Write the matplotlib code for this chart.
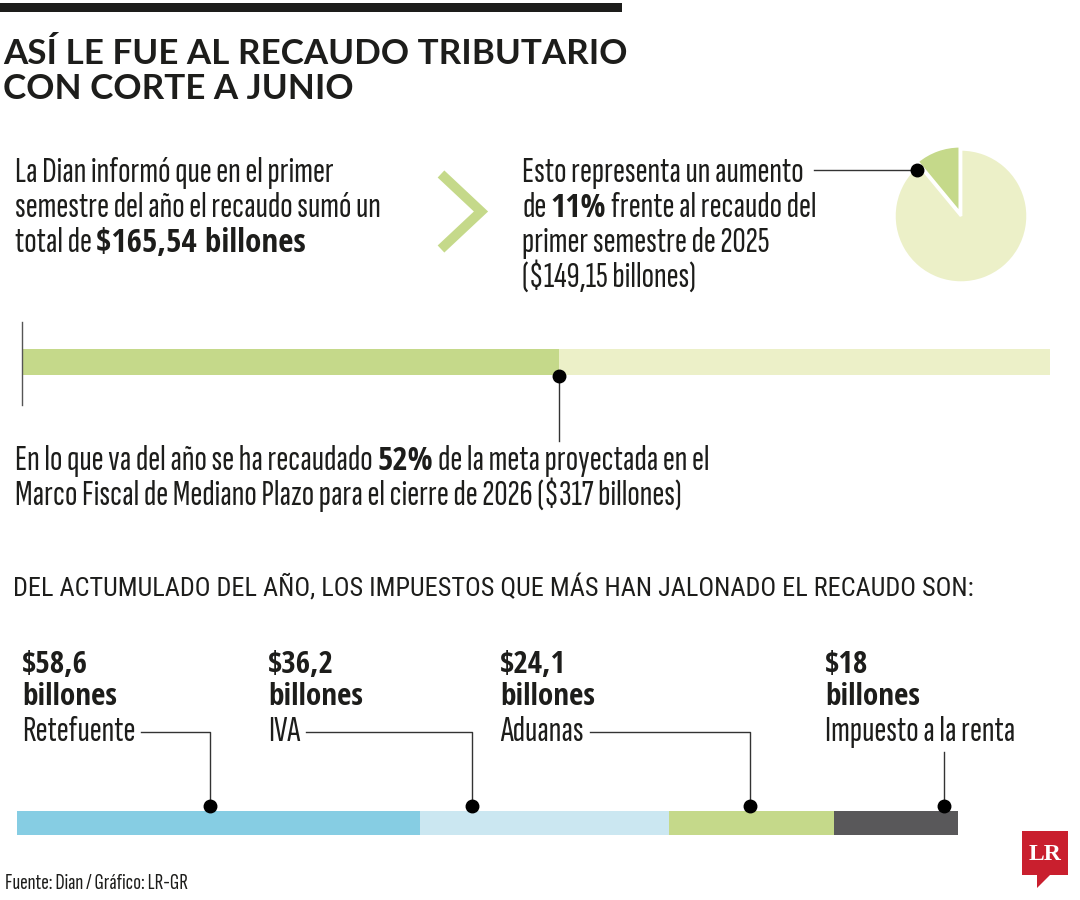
import os
import numpy as np
import matplotlib
matplotlib.use('Agg')
import matplotlib.pyplot as plt
from matplotlib import font_manager as fm
from matplotlib.font_manager import FontProperties
from matplotlib.patches import Polygon, Rectangle

# ---------------- data ----------------
recaudo_2026 = 165.54          # billones, primer semestre 2026
recaudo_2025 = 149.15          # billones, primer semestre 2025
aumento_pct = 11               # %
meta_2026 = 317                # billones, meta Marco Fiscal
avance_pct = 52                # %
impuestos = ['Retefuente', 'IVA', 'Aduanas', 'Impuesto a la renta']
impuestos_valor = [58.6, 36.2, 24.1, 18]
impuestos_etiqueta = ['$58,6', '$36,2', '$24,1', '$18']

# ---------------- styles ----------------
INK = '#1d1d1b'
GREEN = '#c5d98a'
PALE_GREEN = '#ecf0c8'
TAX_COLORS = ['#86cde3', '#cbe7f1', '#c5d98a', '#59585a']
LINE = '#333333'
RED = '#c91f2e'

# ---------------- figure ----------------
fig = plt.figure(figsize=(10.8, 9), dpi=100)
fig.patch.set_facecolor('white')
R = fig.canvas.get_renderer()

# ---------------- fonts (pick the sans face whose proportions best match) ----------------
WMAP = {'thin': 100, 'extralight': 200, 'ultralight': 200, 'light': 300,
        'normal': 400, 'regular': 400, 'book': 400, 'medium': 500,
        'semibold': 600, 'demibold': 600, 'bold': 700, 'extrabold': 800,
        'ultrabold': 800, 'heavy': 900, 'black': 900}


def _wt(e):
    w = e.weight
    if isinstance(w, str):
        return WMAP.get(w.lower(), 400)
    try:
        return int(w)
    except Exception:
        return 400


BASES = ['open sans', 'roboto', 'noto sans', 'liberation sans', 'dejavu sans', 'lato', 'inter']
OK_WORDS = {'condensed', 'semicondensed', 'extracondensed', 'narrow', 'semi', 'extra',
            'display', 'light', 'medium', 'semibold', 'bold', 'black', 'extrabold',
            'thin', 'extralight', 'regular', 'ultracondensed'}


def metrics(fp, s):
    return R.get_text_width_height_descent(s, fp, ismath=False)


CANDS_STRICT, CANDS_ALL = [], []
_seen = set()
for e in fm.fontManager.ttflist:
    if e.fname in _seen:
        continue
    _seen.add(e.fname)
    nm = e.name.lower()
    bn = os.path.basename(e.fname).lower()
    if not bn.endswith(('.ttf', '.otf')):
        continue
    if 'mono' in nm or 'mono' in bn or 'italic' in bn or 'oblique' in bn:
        continue
    if 'serif' in nm and 'sans' not in nm:
        continue
    if str(e.style).lower() != 'normal':
        continue
    narrow = ('condensed' in nm or 'narrow' in nm or 'condensed' in bn or 'narrow' in bn)
    base = next((b for b in BASES if nm.startswith(b)), None)
    ok = False
    if base is not None:
        rest = nm[len(base):].replace('-', ' ').split()
        ok = all(w in OK_WORDS for w in rest)
    if ok:
        CANDS_STRICT.append((e.fname, _wt(e)))
    if ok or narrow:
        CANDS_ALL.append((e.fname, _wt(e)))


def pick_font(bold, sample, target_ratio, strict=True):
    target_w = 700 if bold else 400
    best, best_score = None, None
    for fname, wt in (CANDS_STRICT if strict else CANDS_ALL):
        if abs(wt - target_w) > 150:
            continue
        try:
            fp = FontProperties(fname=fname, size=20)
            w = metrics(fp, sample)[0]
            hc = metrics(fp, 'H')[1]
        except Exception:
            continue
        if hc <= 0:
            continue
        score = abs(np.log((w / hc) / target_ratio)) * 100 + abs(wt - target_w) / 3
        if best_score is None or score < best_score:
            best, best_score = fname, score
    return best


TITLE1 = 'ASÍ LE FUE AL RECAUDO TRIBUTARIO'
TITLE2 = 'CON CORTE A JUNIO'
HEADING = 'DEL ACTUMULADO DEL AÑO, LOS IMPUESTOS QUE MÁS HAN JALONADO EL RECAUDO SON:'

FONTS = {
    'r': pick_font(False, 'semestre del año el recaudo sumó un', 372 / 25, strict=False),
    'b': pick_font(True, 'billones', 99 / 23.5),
    't': pick_font(True, TITLE1, 622 / 26.5),
    'h': pick_font(False, HEADING, 962 / 23),
}


def FP(kind, size):
    path = FONTS.get(kind)
    if path:
        return FontProperties(fname=path, size=size)
    bold = kind in ('b', 't')
    return FontProperties(family=['Roboto', 'DejaVu Sans'],
                          weight='bold' if bold else 'normal', size=size)


ov = fig.add_axes([0, 0, 1, 1])
ov.set_xlim(0, 1080)
ov.set_ylim(900, 0)
ov.axis('off')
ov.set_zorder(5)


def put(x, y, s, kind, size, color=INK, ha='left', **kw):
    return ov.text(x, y, s, fontproperties=FP(kind, size), color=color,
                   va='baseline', ha=ha, parse_math=False, **kw)


def tw(s, kind, size):
    return metrics(FP(kind, size), s)[0]


def cap_h(kind, size):
    return metrics(FP(kind, size), 'H')[1]


CAP20 = {k: cap_h(k, 20) for k in FONTS}


def ksize(k, size):
    # same cap height as the regular face at 'size'
    return size * CAP20['r'] / CAP20[k]


def space_w(kind, size):
    return tw('a a', kind, size) - tw('aa', kind, size)


def runs_width(runs, size):
    w = 0
    for txt, k in runs:
        s = ksize(k, size)
        sp = space_w(k, s)
        lead = len(txt) - len(txt.lstrip(' '))
        trail = len(txt) - len(txt.rstrip(' '))
        core = txt.strip(' ')
        w += (lead + trail) * sp
        if core:
            w += tw(core, k, s)
    return w


def draw_runs(x, y, runs, size, color=INK):
    for txt, k in runs:
        s = ksize(k, size)
        sp = space_w(k, s)
        lead = len(txt) - len(txt.lstrip(' '))
        trail = len(txt) - len(txt.rstrip(' '))
        core = txt.strip(' ')
        x += lead * sp
        if core:
            put(x, y, core, k, s, color=color)
            x += tw(core, k, s)
        x += trail * sp
    return x


def size_for(runs, kind, cap_target, max_width, base=20.0):
    s_cap = base * cap_target / cap_h(kind, base)
    s_w = base * max_width / runs_width(runs, base) if kind == 'r' else \
        base * max_width / tw(runs[0][0], kind, base)
    return min(s_cap, s_w)


def to_ov(ax, x, y):
    d = ax.transData.transform((x, y))
    return ov.transData.inverted().transform(d)


# ---------------- header ----------------
ov.add_patch(Rectangle((0, 3), 622, 9, color=INK, lw=0))
st = size_for([(TITLE1, 't')], 't', 26.5, 628)
fpt = FP('t', st)
_, lph, lpd = metrics(fpt, 'lp')
ls = (35.0 - lpd) / (lph - lpd)
ov.text(3, 99, TITLE1 + '\n' + TITLE2, fontproperties=fpt, color=INK,
        va='baseline', ha='left', linespacing=ls, parse_math=False)

# ---------------- top paragraphs ----------------
left_lines = [
    [('La Dian informó que en el primer', 'r')],
    [('semestre del año el recaudo sumó un', 'r')],
    [('total de ', 'r'), ('$165,54 billones', 'b')],
]
right_lines = [
    [('Esto representa un aumento', 'r')],
    [('de ', 'r'), (f'{aumento_pct}%', 'b'), (' frente al recaudo del', 'r')],
    [('primer semestre de 2025', 'r')],
    [(f'(${recaudo_2025:.2f} billones)'.replace('.', ','), 'r')],
]
sp_ = min(size_for(left_lines[1], 'r', 25, 400),
          size_for(right_lines[0], 'r', 25, 288))
for i, ln in enumerate(left_lines):
    draw_runs(15, 182 + i * 35, ln, sp_)
for i, ln in enumerate(right_lines):
    draw_runs(522, 182 + i * 35, ln, sp_)

# chevron
ov.plot([441, 481, 441], [174, 211.5, 249], color=GREEN, lw=7,
        solid_joinstyle='miter', solid_capstyle='butt')

# ---------------- pie ----------------
ax_pie = fig.add_axes([893 / 1080, 1 - 284 / 900, 136 / 1080, 136 / 900])
ax_pie.pie([aumento_pct, 100 - aumento_pct], colors=[GREEN, PALE_GREEN],
           startangle=90, counterclock=True, explode=[0.05, 0],
           wedgeprops=dict(edgecolor='white', linewidth=2))
ax_pie.set_xlim(-1.02, 1.02)
ax_pie.set_ylim(-1.02, 1.02)
ax_pie.set_aspect('equal')
ax_pie.axis('off')

ang = np.deg2rad(90 + 360 * aumento_pct / 100 + 4)
px, py = to_ov(ax_pie, 0.95 * np.cos(ang), 0.95 * np.sin(ang))
line1_end = 522 + runs_width(right_lines[0], sp_)
ov.plot([line1_end + 10, px], [py, py], color=LINE, lw=1)
ov.plot([px], [py], 'o', color='black', ms=9)

# ---------------- progress bar ----------------
ax_p = fig.add_axes([22 / 1080, 1 - 375 / 900, 1028 / 1080, 26 / 900])
ax_p.barh([0], [recaudo_2026], height=1, color=GREEN, lw=0)
ax_p.barh([0], [meta_2026 - recaudo_2026], left=recaudo_2026, height=1, color=PALE_GREEN, lw=0)
ax_p.set_xlim(0, meta_2026)
ax_p.set_ylim(-0.5, 0.5)
ax_p.axis('off')

x0, _ = to_ov(ax_p, 0, 0)
ov.plot([x0, x0], [322, 405], color='#555555', lw=1)
dx, dy = to_ov(ax_p, recaudo_2026, -0.5)
ov.plot([dx, dx], [dy + 1, 441], color=LINE, lw=1)
ov.plot([dx], [dy + 1], 'o', color='black', ms=9)

mid_lines = [
    [('En lo que va del año se ha recaudado ', 'r'), (f'{avance_pct}%', 'b'),
     (' de la meta proyectada en el', 'r')],
    [(f'Marco Fiscal de Mediano Plazo para el cierre de 2026 (${meta_2026} billones)', 'r')],
]
sm = size_for(mid_lines[0], 'r', 25, 730)
for i, ln in enumerate(mid_lines):
    draw_runs(15, 470 + i * 34.5, ln, sm)

# ---------------- section heading ----------------
sh = size_for([(HEADING, 'h')], 'h', 23.5, 962)
put(13, 596, HEADING, 'h', sh)

# ---------------- tax bar ----------------
ax_t = fig.add_axes([17 / 1080, 1 - 835 / 900, 941 / 1080, 24 / 900])
left = 0
for v, c in zip(impuestos_valor, TAX_COLORS):
    ax_t.barh([0], [v], left=left, height=1, color=c, lw=0)
    left += v
ax_t.set_xlim(0, sum(impuestos_valor))
ax_t.set_ylim(-0.5, 0.5)
ax_t.axis('off')

col_x = [22, 268, 500, 825]
dot_frac = [0.48, 0.21, 0.49, 0.89]
sv = size_for([('billones', 'b')], 'b', 23.5, 103)
sn = size_for([('Impuesto a la renta', 'r')], 'r', 25, 198)
starts = np.concatenate([[0], np.cumsum(impuestos_valor)[:-1]])
for i, (name, lab, v) in enumerate(zip(impuestos, impuestos_etiqueta, impuestos_valor)):
    x = col_x[i]
    put(x, 673, lab, 'b', sv)
    put(x, 705, 'billones', 'b', sv)
    put(x, 741, name, 'r', sn)
    bx, by = to_ov(ax_t, starts[i] + dot_frac[i] * v, 0.5)
    dot_y = by - 5
    tend = x + tw(name, 'r', sn)
    if tend + 8 < bx:
        ov.plot([tend + 6, bx, bx], [732, 732, dot_y], color=LINE, lw=1)
    else:
        ov.plot([bx, bx], [752, dot_y], color=LINE, lw=1)
    ov.plot([bx], [dot_y], 'o', color='black', ms=9)

# ---------------- footer ----------------
src = 'Fuente: Dian / Gráfico: LR-GR'
ss = size_for([(src, 'r')], 'r', 16, 183)
put(5, 889, src, 'r', ss)

logo = Polygon([(1022, 831), (1068, 831), (1068, 875), (1050, 875), (1037, 888),
                (1037, 875), (1022, 875)], closed=True, color=RED, lw=0)
ov.add_patch(logo)
ov.text(1045, 854, 'LR', color='white', ha='center', va='center',
        fontsize=17, fontweight='bold', family=['Liberation Serif', 'DejaVu Serif'],
        parse_math=False)

fig.savefig('out.png', dpi=100, facecolor='white')
